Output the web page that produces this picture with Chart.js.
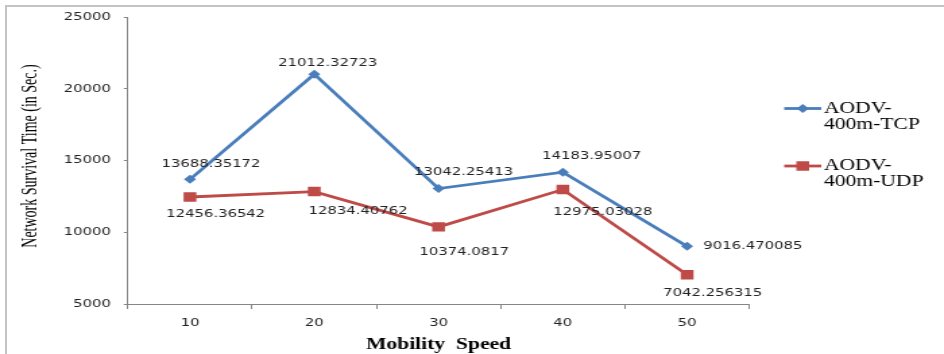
<!DOCTYPE html>
<html>
<head>
<meta charset="utf-8">
<script src="https://cdn.jsdelivr.net/npm/chart.js@4/dist/chart.umd.min.js"></script>
<style>
  html, body { margin: 0; padding: 0; background: #fff; overflow: hidden; width: 944px; height: 354px; }
  #frame { position: absolute; left: 5px; top: 5px; width: 1000px; height: 400px; border: 2px solid #c4c4c4; }
  #wrap { position: absolute; left: 0; top: 0; width: 700px; height: 354px; transform: scaleX(1.34857); transform-origin: 0 0; }
</style>
</head>
<body>
<div id="frame"></div>
<div id="wrap"><canvas id="chart"></canvas></div>
<script>
const speeds = ['10', '20', '30', '40', '50'];
const tcpValues = [13688.35172, 21012.32723, 13042.25413, 14183.95007, 9016.470085];
const udpValues = [12456.36542, 12834.40762, 10374.0817, 12975.03028, 7042.256315];
const seriesNames = [['AODV-', '400m-TCP'], ['AODV-', '400m-UDP']];
const yTitle = 'Network Survival Time (in Sec.)';

const tickFont = { family: 'DejaVu Sans', size: 11 };
const axisColor = '#868686';

// hand placed value labels, like the original sheet
const pointLabels = {
  id: 'pointLabels',
  afterDatasetsDraw(chart, args, opts) {
    const ctx = chart.ctx;
    ctx.save();
    ctx.font = '11px "DejaVu Sans"';
    ctx.fillStyle = '#222';
    ctx.textBaseline = 'middle';
    chart.data.datasets.forEach((ds, i) => {
      const meta = chart.getDatasetMeta(i);
      meta.data.forEach((pt, j) => {
        const off = opts.offsets[i][j];
        ctx.textAlign = off[2] || 'center';
        ctx.fillText(String(ds.data[j]), pt.x + off[0], pt.y + off[1]);
      });
    });
    ctx.restore();
  },
};

const sideLegend = {
  id: 'sideLegend',
  afterDraw(chart, args, opts) {
    const ctx = chart.ctx;
    ctx.save();
    chart.data.datasets.forEach((ds, i) => {
      const y = opts.top + i * opts.gap;
      ctx.strokeStyle = ds.borderColor;
      ctx.lineWidth = ds.borderWidth;
      ctx.beginPath();
      ctx.moveTo(opts.left, y);
      ctx.lineTo(opts.left + opts.lineLength, y);
      ctx.stroke();
      ctx.fillStyle = ds.pointBackgroundColor;
      Chart.helpers.drawPoint(ctx, {
        pointStyle: ds.pointStyle,
        radius: ds.pointRadius,
        rotation: 0,
        borderWidth: 0,
      }, opts.left + opts.lineLength / 2, y);
      ctx.fillStyle = '#000';
      ctx.font = '16px "Liberation Serif"';
      ctx.textAlign = 'left';
      ctx.textBaseline = 'middle';
      seriesNames[i].forEach((line, k) => {
        ctx.fillText(line, opts.left + opts.lineLength + 2, y + k * 16);
      });
    });
    ctx.restore();
  },
};

// the vertical title is squeezed in the original, so draw it by hand
const yAxisTitle = {
  id: 'yAxisTitle',
  afterDraw(chart) {
    const ctx = chart.ctx;
    ctx.save();
    ctx.translate(23, 156);
    ctx.rotate(-Math.PI / 2);
    ctx.scale(1, 1.2);
    ctx.font = '14px "Liberation Serif"';
    ctx.fillStyle = '#000';
    ctx.textAlign = 'center';
    ctx.textBaseline = 'middle';
    ctx.fillText(yTitle, 0, 0);
    ctx.restore();
  },
};

const ctx = document.getElementById('chart').getContext('2d');
new Chart(ctx, {
  type: 'line',
  data: {
    labels: speeds,
    datasets: [
      {
        label: 'AODV-400m-TCP',
        data: tcpValues,
        borderColor: '#4a7ebb',
        backgroundColor: '#4a7ebb',
        pointBackgroundColor: '#4a7ebb',
        pointBorderWidth: 0,
        pointStyle: 'rectRot',
        pointRadius: 4.5,
        borderWidth: 2.8,
        tension: 0,
      },
      {
        label: 'AODV-400m-UDP',
        data: udpValues,
        borderColor: '#be4b48',
        backgroundColor: '#be4b48',
        pointBackgroundColor: '#be4b48',
        pointBorderWidth: 0,
        pointStyle: 'rect',
        pointRadius: 6.7,
        borderWidth: 2.8,
        tension: 0,
      },
    ],
  },
  options: {
    responsive: true,
    maintainAspectRatio: false,
    animation: false,
    layout: { padding: { top: 17, right: 144.4, left: 0, bottom: 0 } },
    plugins: {
      legend: { display: false },
      tooltip: { enabled: false },
      pointLabels: {
        offsets: [
          [[15.5, -15], [10, -11], [18.5, -16], [21.5, -16], [12, 0, 'left']],
          [[19, 17], [32.5, 20], [19, 25], [29.6, 23], [19, 18]],
        ],
      },
      sideLegend: { left: 581.5, top: 108.5, gap: 57.5, lineLength: 27.5 },
    },
    scales: {
      x: {
        offset: true,
        grid: { offset: true, drawOnChartArea: false, tickLength: 5, color: axisColor },
        border: { color: axisColor, width: 1 },
        ticks: { font: tickFont, color: '#222', padding: 7.5 },
        title: {
          display: true,
          text: 'Mobility  Speed',
          color: '#000',
          font: { family: 'Liberation Serif', size: 16, weight: 'bold' },
          padding: { top: 0, bottom: 0 },
        },
        afterFit(scale) { scale.height = 50; },
      },
      y: {
        min: 5000,
        max: 25000,
        grid: { drawOnChartArea: false, tickLength: 3, color: axisColor },
        border: { color: axisColor, width: 1 },
        ticks: {
          stepSize: 5000,
          font: tickFont,
          color: '#222',
          padding: 9.5,
          callback: (value) => String(value),
        },
        afterFit(scale) { scale.width = 94.8; },
      },
    },
  },
  plugins: [pointLabels, sideLegend, yAxisTitle],
});
</script>
</body>
</html>
